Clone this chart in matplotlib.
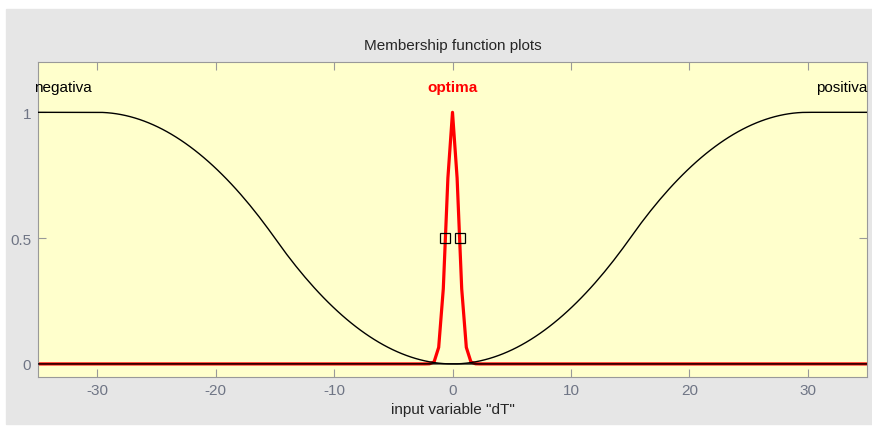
import numpy as np
import matplotlib
matplotlib.use("Agg")
import matplotlib.pyplot as plt
from matplotlib.patches import Rectangle

# membership functions of input variable "dT"
var_name = 'input variable "dT"'
x_range = [-35, 35]
mf_names = ["negativa", "optima", "positiva"]
mf_types = ["zmf", "gaussmf", "smf"]
mf_params = [[-30, 0], [0.5, 0], [0, 30]]
label_x = [-35.3, 0, 35.0]
label_ha = ["left", "center", "right"]
selected = "optima"
handle_x = [-0.6, 0.6]
handle_y = [0.5, 0.5]
xticks = [-30, -20, -10, 0, 10, 20, 30]
yticks = [0, 0.5, 1]
n_points = 181


def zmf(x, p):
    a, b = p
    y = np.ones_like(x)
    m = (a + b) / 2
    i1 = (x > a) & (x <= m)
    i2 = (x > m) & (x <= b)
    y[i1] = 1 - 2 * ((x[i1] - a) / (b - a)) ** 2
    y[i2] = 2 * ((x[i2] - b) / (b - a)) ** 2
    y[x > b] = 0
    return y


def smf(x, p):
    return 1 - zmf(x, p)


def gaussmf(x, p):
    s, c = p
    return np.exp(-(x - c) ** 2 / (2 * s ** 2))


funcs = {"zmf": zmf, "smf": smf, "gaussmf": gaussmf}

plt.rcParams['font.family'] = ['Liberation Sans', 'DejaVu Sans']
plt.rcParams['axes.unicode_minus'] = False
fs = 11

fig = plt.figure(figsize=(8.72, 4.27), dpi=100, facecolor="white")
fig.patches.append(Rectangle((6 / 872, 2 / 427), 1, (427 - 12) / 427,
                             transform=fig.transFigure, color="#e6e6e6", zorder=-10))
ax = fig.add_axes([38 / 872, 1 - 377.5 / 427, (867 - 38) / 872, (377.5 - 63) / 427])
ax.set_facecolor("#ffffcc")

x = np.linspace(x_range[0], x_range[1], n_points)
for name, t, p, lx, ha in zip(mf_names, mf_types, mf_params, label_x, label_ha):
    y = funcs[t](x, p)
    if name == selected:
        ax.plot(x, y, color="red", lw=2.3, zorder=2)
        ax.text(lx, 1.1, name, color="red", fontweight="bold", fontsize=fs,
                ha=ha, va="center")
    else:
        ax.plot(x, y, color="black", lw=1.0, zorder=3)
        ax.text(lx, 1.1, name, color="black", fontsize=fs, ha=ha, va="center")

ax.plot(handle_x, handle_y, ls="none", marker="s", ms=7, mfc="none",
        mec="black", mew=0.9, zorder=4)

ax.set_xlim(x_range)
ax.set_ylim(-0.05, 1.2)
ax.set_xticks(xticks)
ax.set_yticks(yticks)
ax.set_yticklabels(["0", "0.5", "1"])
ax.tick_params(direction="in", length=6, width=0.8, color="#999999",
               labelcolor="#6f7585", labelsize=fs, top=True, right=True, pad=5)
for s in ax.spines.values():
    s.set_color("#999999")
ax.set_title("Membership function plots", fontsize=fs, color="#262626", pad=9)
ax.set_xlabel(var_name, fontsize=fs, color="#262626", labelpad=3)

fig.savefig("out.png", dpi=100, facecolor=fig.get_facecolor())
